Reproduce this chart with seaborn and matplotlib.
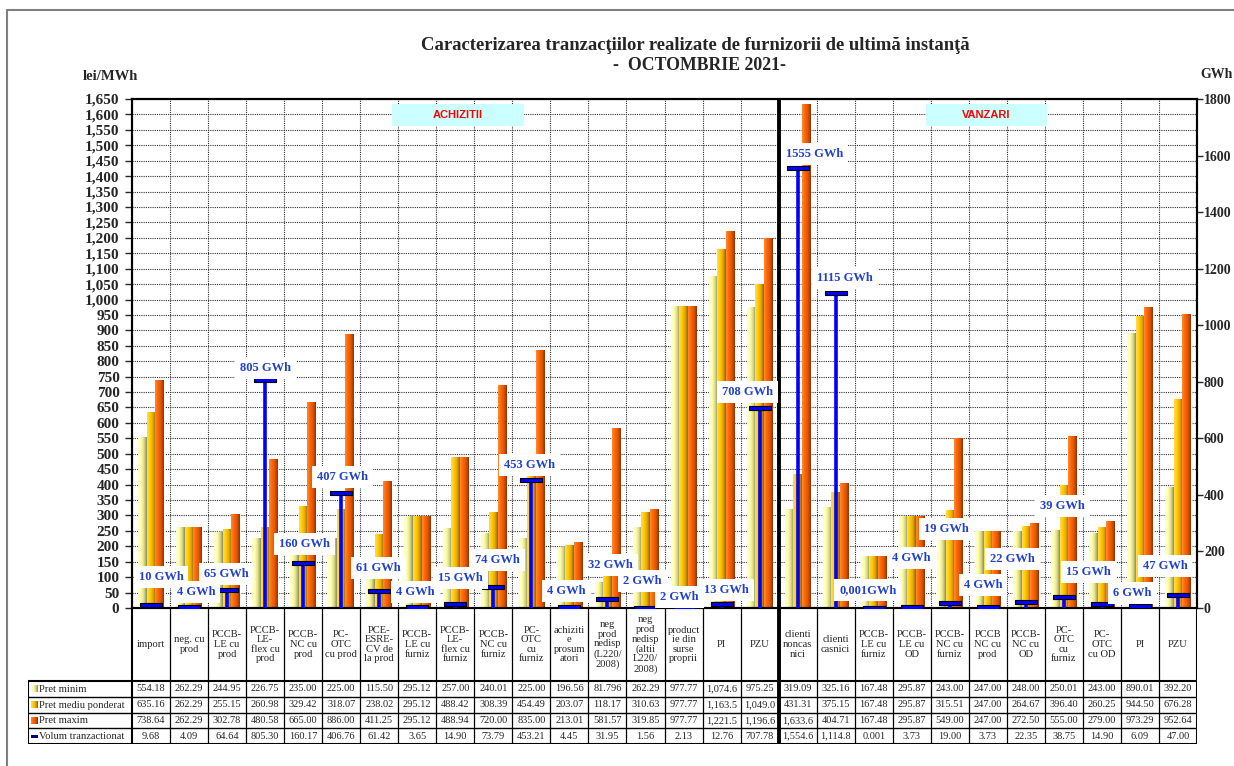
import numpy as np
import pandas as pd
import matplotlib
matplotlib.use("Agg")
import matplotlib.pyplot as plt
import seaborn as sns
from matplotlib.colors import LinearSegmentedColormap
from matplotlib.lines import Line2D
from matplotlib.patches import Rectangle

# ---------------------------------------------------------
# DATA
# ---------------------------------------------------------
categories = [
    "import", "neg. cu\nprod", "PCCB-\nLE cu\nprod", "PCCB-\nLE-\nflex cu\nprod",
    "PCCB-\nNC cu\nprod", "PC-\nOTC\ncu prod", "PCE-\nESRE-\nCV de\nla prod",
    "PCCB-\nLE cu\nfurniz", "PCCB-\nLE-\nflex cu\nfurniz", "PCCB-\nNC cu\nfurniz",
    "PC-\nOTC\ncu\nfurniz", "achiziti\ne\nprosum\natori",
    "neg\nprod\nnedisp\n(L220/\n2008)", "neg\nprod\nnedisp\n(altii\nL220/\n2008)",
    "product\nie din\nsurse\nproprii", "PI", "PZU",
    "clienti\nnoncas\nnici", "clienti\ncasnici", "PCCB-\nLE cu\nfurniz",
    "PCCB-\nLE cu\nOD", "PCCB-\nNC cu\nfurniz", "PCCB\nNC cu\nprod",
    "PCCB-\nNC cu\nOD", "PC-\nOTC\ncu\nfurniz", "PC-\nOTC\ncu OD", "PI", "PZU",
]

pret_minim = [554.18, 262.29, 244.95, 226.75, 235.00, 225.00, 115.50, 295.12, 257.00,
              240.01, 225.00, 196.56, 81.796, 262.29, 977.77, 1074.6, 975.25,
              319.09, 325.16, 167.48, 295.87, 243.00, 247.00, 248.00, 250.01, 243.00,
              890.01, 392.20]
pret_mediu = [635.16, 262.29, 255.15, 260.98, 329.42, 318.07, 238.02, 295.12, 488.42,
              308.39, 454.49, 203.07, 118.17, 310.63, 977.77, 1163.5, 1049.0,
              431.31, 375.15, 167.48, 295.87, 315.51, 247.00, 264.67, 396.40, 260.25,
              944.50, 676.28]
pret_maxim = [738.64, 262.29, 302.78, 480.58, 665.00, 886.00, 411.25, 295.12, 488.94,
              720.00, 835.00, 213.01, 581.57, 319.85, 977.77, 1221.5, 1196.6,
              1633.6, 404.71, 167.48, 295.87, 549.00, 247.00, 272.50, 555.00, 279.00,
              973.29, 952.64]
volum = [9.68, 4.09, 64.64, 805.30, 160.17, 406.76, 61.42, 3.65, 14.90, 73.79, 453.21,
         4.45, 31.95, 1.56, 2.13, 12.76, 707.78,
         1554.6, 1114.8, 0.001, 3.73, 19.00, 3.73, 22.35, 38.75, 14.90, 6.09, 47.00]

series = ["Pret minim", "Pret mediu ponderat", "Pret maxim"]
vol_name = "Volum tranzactionat"
n_achizitii = 17

# label offsets (pixels) of the "GWh" boxes relative to each volume marker
lbl_dx = [10, 7, -1, 0, 1, 1, -1, -2, 5, 4, -2, -3, 3, -3, -4, 5, -12,
          17, 9, -6, 0, -3, -5, -13, -2, -14, -8, -13]
lbl_dy = [28, 15, 16, 12, 19, 16, 23, 15, 26, 27, 15, 16, 34, 27, 10, 14, 16,
          14, 15, 18, 49, 74, 22, 43, 91, 32, 13, 29]

# ---------------------------------------------------------
# STYLE
# ---------------------------------------------------------
sns.set_style("white")
plt.rcParams["font.family"] = ["Liberation Serif", "DejaVu Serif"]

W, H = 1234, 766
def fx(px):
    return px / W
def fy(py):
    return 1 - py / H

cmaps = [
    LinearSegmentedColormap.from_list("mn", ["#ffffd2", "#ffffae", "#dcdc8c", "#8c8c5a"]),
    LinearSegmentedColormap.from_list("md", ["#ffdc55", "#ffcc00", "#e6a800", "#8c6400"]),
    LinearSegmentedColormap.from_list("mx", ["#ff8a3a", "#ff6600", "#e05500", "#8c3300"]),
]
base_colors = ["#ffff99", "#ffcc00", "#ff6600"]
vol_color = "#0000ff"
lbl_color = "#2040d0"
grad = np.linspace(0, 1, 64).reshape(1, -1)

fig = plt.figure(figsize=(W / 100, H / 100), dpi=100)
ax = fig.add_axes([fx(132), fy(608), (1197 - 132) / W, (608 - 99) / H])

n = len(categories)
df = pd.DataFrame({
    "idx": np.tile(np.arange(n), 3),
    "serie": np.repeat(series, n),
    "pret": pret_minim + pret_mediu + pret_maxim,
})

sns.barplot(data=df, x="idx", y="pret", hue="serie", hue_order=series,
            palette=base_colors, width=0.672, gap=0, errorbar=None,
            saturation=1, legend=False, ax=ax, zorder=2)

# cylinder-like shading as in the Excel chart
for cont, cmap in zip(ax.containers, cmaps):
    for bar in cont:
        x0, w, h = bar.get_x(), bar.get_width(), bar.get_height()
        ax.imshow(grad, extent=(x0, x0 + w, 0, h), aspect="auto", cmap=cmap,
                  interpolation="bilinear", zorder=2.5)

ax.set_xlim(-0.5, n - 0.5)
ax.set_ylim(0, 1650)
ax.set_xlabel("")
ax.set_ylabel("")
ax.set_yticks(np.arange(0, 1651, 50))
ax.set_yticklabels([f"{v:,.0f}" for v in np.arange(0, 1651, 50)],
                   fontweight="bold", fontsize=11)
ax.set_xticks(np.arange(-0.5, n, 1), minor=True)
ax.tick_params(axis="x", which="both", length=0, labelbottom=False)
ax.tick_params(axis="y", direction="out", length=5, width=1, pad=4, left=True)
ax.grid(axis="y", which="major", color="#303030", ls=(0, (1, 1)), lw=0.8)
ax.grid(axis="x", which="minor", color="#303030", ls=(0, (1, 1)), lw=0.8)
ax.set_axisbelow(True)
for s in ax.spines.values():
    s.set_color("black")
    s.set_linewidth(1.5)

# section boxes
ax.add_patch(Rectangle((8.07 - 1.735, 1597 - 35.5), 3.47, 71, fc="#ccffff", ec="none", zorder=3))
ax.text(8.07, 1597, "ACHIZITII", ha="center", va="center", color="#ff0000",
        fontsize=8, fontweight="bold", family="Liberation Sans", zorder=4)
ax.add_patch(Rectangle((21.96 - 1.59, 1598 - 35.5), 3.18, 71, fc="#ccffff", ec="none", zorder=3))
ax.text(21.96, 1598, "VANZARI", ha="center", va="center", color="#ff0000",
        fontsize=8, fontweight="bold", family="Liberation Sans", zorder=4)

# ---------------------------------------------------------
# VOLUME (right axis)
# ---------------------------------------------------------
ax2 = ax.twinx()
ax2.set_ylim(0, 1800)
xs = np.arange(n)
ax2.vlines(xs, 0, volum, color=vol_color, lw=2.6, zorder=3)
cap = [(-1, -0.2), (1, -0.2), (1, 0.2), (-1, 0.2), (-1, -0.2)]
ax2.plot(xs, volum, ls="none", marker=cap, ms=16.5, mfc=vol_color, mec="black",
         mew=0.8, zorder=4)
ax2.axvline(n_achizitii - 0.5, color="black", lw=2.8, zorder=5)

for i, v in enumerate(volum):
    txt = "0,001GWh" if v < 1 else f"{round(v)} GWh"
    ax2.annotate(txt, xy=(i, v), xytext=(lbl_dx[i], lbl_dy[i]), textcoords="offset pixels",
                 ha="center", va="center", color=lbl_color, fontsize=9,
                 fontweight="bold", zorder=6,
                 bbox=dict(boxstyle="square,pad=0.4", fc="white", ec="none"))

ax2.set_yticks(np.arange(0, 1801, 200))
ax2.set_yticklabels([str(v) for v in range(0, 1801, 200)], fontweight="bold", fontsize=10)
ax2.tick_params(axis="y", direction="out", length=4, width=1, pad=1)
ax2.grid(False)
for s in ax2.spines.values():
    s.set_color("black")
    s.set_linewidth(1.5)

# ---------------------------------------------------------
# DATA TABLE
# ---------------------------------------------------------
colw = (1197 - 132) / n
xl = -0.5 - (132 - 28) / colw
axt = fig.add_axes([fx(28), fy(744), (1197 - 28) / W, (744 - 608) / H])
axt.set_xlim(xl, n - 0.5)
axt.set_ylim(136, 0)
axt.axis("off")

rows = [73, 88.8, 104.6, 120.4, 136]
for k in range(n + 1):
    xk = k - 0.5
    lw = 1.5 if k in (0, n) else 0.9
    if k == n_achizitii:
        lw = 2.8
    axt.plot([xk, xk], [0, 136], color="black", lw=lw, solid_capstyle="butt")
axt.plot([xl, xl], [rows[0], rows[-1]], color="black", lw=1.5)
for j, r in enumerate(rows):
    axt.plot([xl, n - 0.5], [r, r], color="black", lw=1.5 if j in (0, len(rows) - 1) else 1.0)

for i, c in enumerate(categories):
    axt.text(i, 36.5, c, ha="center", va="center", fontsize=7.6, linespacing=1.08)

def fmt(v):
    if v >= 1000:
        return f"{v:,.1f}"
    s = f"{v:.2f}"
    if float(s) != v:
        s = f"{v:.3f}"
    return s

table_rows = [pret_minim, pret_mediu, pret_maxim, volum]
names = series + [vol_name]
for j, (vals, name) in enumerate(zip(table_rows, names)):
    yc = (rows[j] + rows[j + 1]) / 2
    for i, v in enumerate(vals):
        axt.text(i, yc, fmt(v), ha="center", va="center", fontsize=7.5)
    axt.text(xl + 0.3, yc + 0.3, name, ha="left", va="center", fontsize=7.6)
    if j < 3:
        axt.imshow(grad, extent=(xl + 0.08, xl + 0.26, yc + 3.5, yc - 3.5), aspect="auto",
                   cmap=cmaps[j], zorder=3)
    else:
        axt.add_patch(Rectangle((xl + 0.07, yc - 1.6), 0.2, 3.2, fc="#000080", ec="none"))
axt.set_xlim(xl, n - 0.5)
axt.set_ylim(136, 0)

# ---------------------------------------------------------
# TITLES & FRAME
# ---------------------------------------------------------
fig.text(fx(695), fy(45), "Caracterizarea tranzacţiilor realizate de furnizorii de ultimă instanţă",
         ha="center", va="center", fontsize=13.4, fontweight="bold")
fig.text(fx(699), fy(66), "-  OCTOMBRIE 2021-", ha="center", va="center",
         fontsize=12.8, fontweight="bold")
fig.text(fx(83), fy(77), "lei/MWh", ha="left", va="center", fontsize=10.5, fontweight="bold")
fig.text(fx(1200), fy(75), "GWh", ha="left", va="center", fontsize=10, fontweight="bold")

fig.add_artist(Line2D([fx(7), fx(7)], [fy(10), 0], color="#808080", lw=1.5))
fig.add_artist(Line2D([fx(7), 1], [fy(10), fy(10)], color="#808080", lw=1.5))

fig.savefig("out.png", dpi=100)
